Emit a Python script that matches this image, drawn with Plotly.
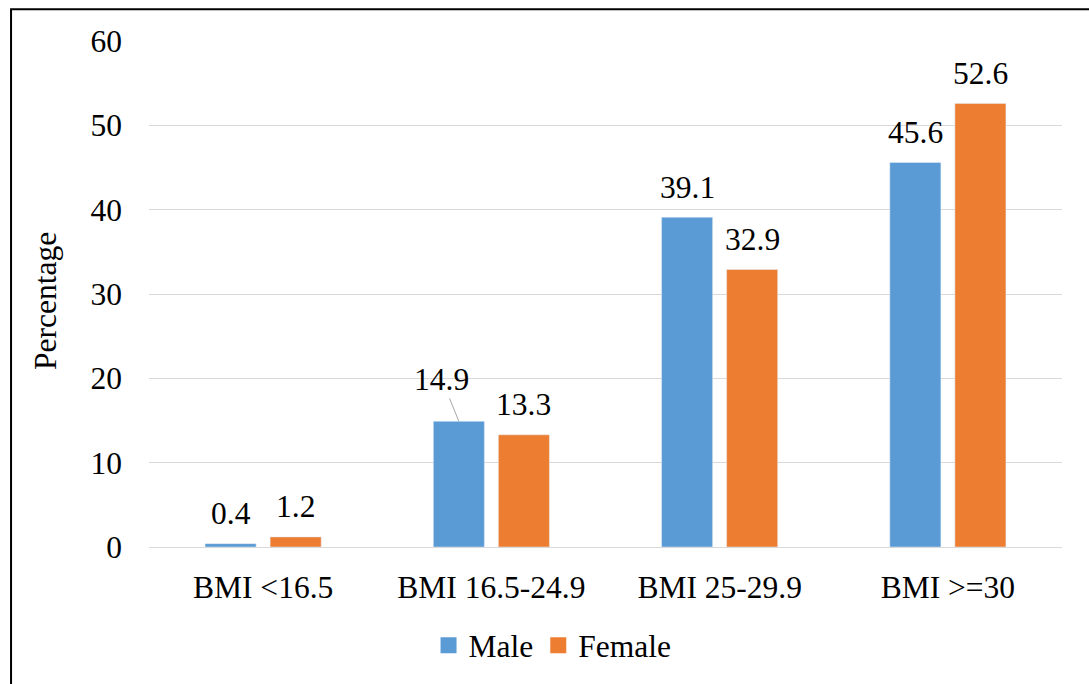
import plotly.graph_objects as go

# BMI groups and prevalence (%) by sex
categories = ["BMI <16.5", "BMI 16.5-24.9", "BMI 25-29.9", "BMI >=30"]
male = [0.4, 14.9, 39.1, 45.6]
female = [1.2, 13.3, 32.9, 52.6]
y_ticks = [0, 10, 20, 30, 40, 50, 60]

BLUE = "#5B9BD5"
ORANGE = "#ED7D31"
FONT = "Liberation Serif"
FS = 31.5

BARGAP = 0.43
GROUPGAP = 0.215
slot = (1 - BARGAP) / 2          # width of each bar slot within a category
offsets = [-slot / 2, slot / 2]  # centre of male / female bar relative to category

fig = go.Figure()
fig.add_trace(go.Bar(x=categories, y=male, name="Male", marker_color=BLUE,
                     showlegend=False))
fig.add_trace(go.Bar(x=categories, y=female, name="Female", marker_color=ORANGE,
                     showlegend=False))

# legend keys as square markers
for name, col in [("Male", BLUE), ("Female", ORANGE)]:
    fig.add_trace(go.Scatter(x=[None], y=[None], mode="markers", name=name,
                             marker=dict(symbol="square", size=16, color=col)))

# value labels above each bar
annotations = []
for series, off in [(male, offsets[0]), (female, offsets[1])]:
    for i, v in enumerate(series):
        if series is male and i == 1:
            # label pulled off the bar with a leader line
            annotations.append(dict(
                x=i + off, y=v, xref="x", yref="y", text=f"{v:.1f}",
                showarrow=True, arrowhead=0, arrowwidth=1, arrowcolor="#A6A6A6",
                ax=-17, ay=-42, standoff=0,
                font=dict(family=FONT, size=FS, color="black")))
        else:
            annotations.append(dict(
                x=i + off, y=v, xref="x", yref="y", text=f"{v:.1f}",
                showarrow=False, yanchor="middle", yshift=30,
                font=dict(family=FONT, size=FS, color="black")))

# y-axis title
annotations.append(dict(
    x=-0.114, y=0.486, xref="paper", yref="paper", text="Percentage",
    textangle=-90, showarrow=False, xanchor="center", yanchor="middle",
    font=dict(family=FONT, size=FS, color="black")))

# outer frame (left and top edges)
shapes = [dict(type="path", xref="paper", yref="paper",
               path="M -0.1511,-0.4 L -0.1511,1.0626 L 1.05,1.0626",
               line=dict(color="black", width=2))]

fig.update_layout(
    width=1089, height=684,
    margin=dict(l=149, r=27, t=41, b=132),
    paper_bgcolor="white", plot_bgcolor="white",
    font=dict(family=FONT, size=FS, color="black"),
    barmode="group", bargap=BARGAP, bargroupgap=GROUPGAP,
    annotations=annotations, shapes=shapes,
    legend=dict(orientation="h", x=0.442, xanchor="center", y=-0.194,
                yanchor="middle", font=dict(family=FONT, size=FS),
                itemwidth=30, traceorder="normal"),
    xaxis=dict(type="category", showgrid=False, showline=False, ticks="",
               ticklabelstandoff=18, tickfont=dict(family=FONT, size=FS)),
    yaxis=dict(range=[0, 60], tickvals=y_ticks, showgrid=True,
               gridcolor="#D9D9D9", gridwidth=1, zeroline=True,
               zerolinecolor="#D9D9D9", zerolinewidth=1, showline=False,
               ticks="", ticklabelstandoff=26,
               tickfont=dict(family=FONT, size=FS)),
)

fig.write_html("out.html")
